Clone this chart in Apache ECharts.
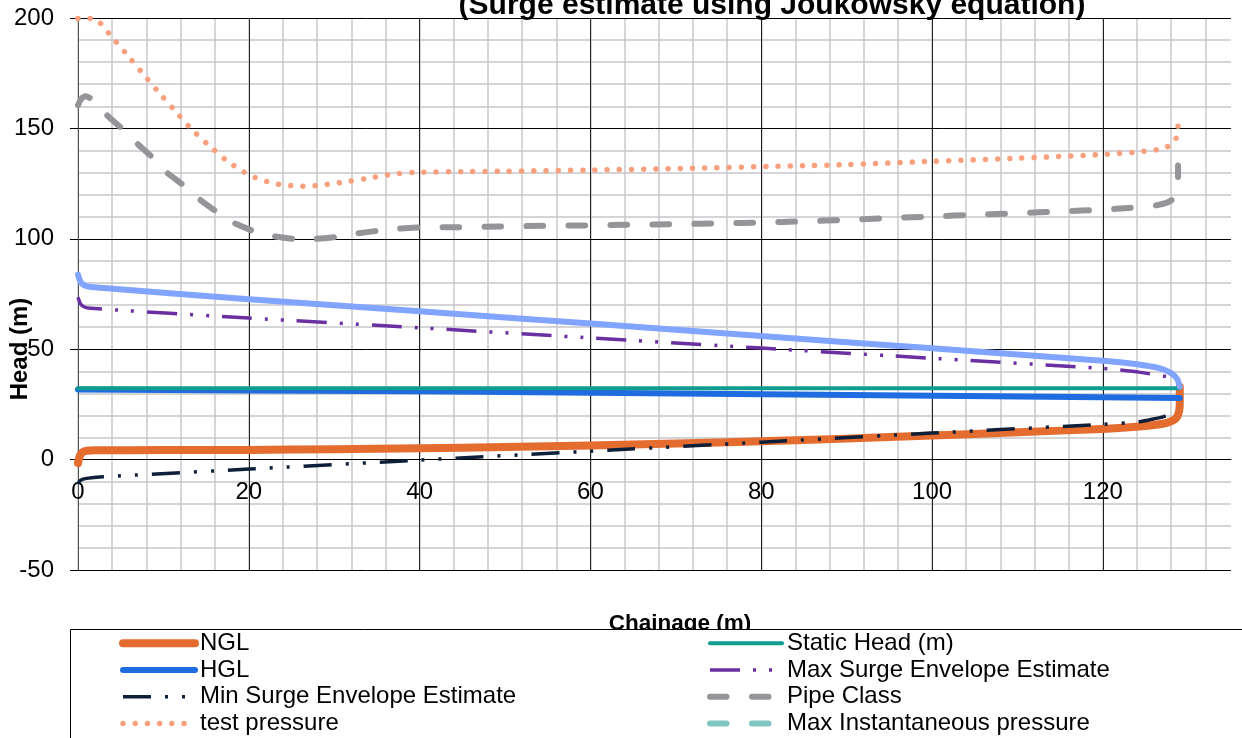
<!DOCTYPE html>
<html><head><meta charset="utf-8">
<script src="https://cdn.jsdelivr.net/npm/echarts@6/dist/echarts.min.js"></script>
<style>html,body{margin:0;padding:0;background:#fff}#c{width:1242px;height:738px}</style>
</head><body><div id="c"></div>
<script>
const titleText = '(Surge estimate using Joukowsky equation)';
const xAxisTitle = 'Chainage (m)';
const yAxisTitle = 'Head (m)';
const xTickLabels = [0, 20, 40, 60, 80, 100, 120];
const yTickLabels = [-50, 0, 50, 100, 150, 200];

const ngl = [[0,-1.6],[0.2,1.5],[0.5,3.3],[1,4],[2,4.2],[10,4.3],[20,4.4],[30,4.7],[40,5.1],[50,5.7],[60,6.4],[70,7.3],[80,8.3],[90,9.5],[100,10.9],[110,12.4],[120,13.9],[125,15.2],[127.5,16.6],[128.5,18.5],[128.9,21.5],[129,26],[129,33]];
const hgl = [[0,31.8],[40,30.9],[87,29.4],[129,27.9]];
const staticHead = [[0,32.3],[129,32.3]];
const minSurge = [[0,-10.8],[0.3,-9.3],[1,-8.5],[2.9,-7.8],[20,-4.3],[40,-0.2],[60,3.8],[80,7.9],[100,12],[120,16],[124.2,17.1],[127.3,19.7],[128.8,22.8]];
const testPressure = [[0,199.8],[1.9,199.8],[2.85,196.7],[3.74,192.4],[5.6,184],[7.45,175.5],[9.3,167],[11.2,158.7],[13.1,150.4],[15.2,142.7],[17.4,135.4],[18.6,132.3],[19.8,129.4],[21.1,127.2],[22.5,125.5],[23.9,124.4],[25.3,124],[26.7,123.8],[28.2,124.1],[29.6,124.9],[31,125.6],[33.8,127.3],[36.7,129.2],[39.5,130.1],[45,130.4],[50,130.6],[59.5,131.1],[70,131.8],[85,133.1],[90,133.6],[100,135.1],[110,136.5],[120,138.2],[124.2,139.4],[127,140.8],[128.3,143.6],[128.8,148.3],[128.8,154]];
const maxSurge = [[0,73.5],[0.3,70.5],[0.8,69],[1.5,68.5],[20,64.1],[40,59.7],[60,55.1],[80,50.5],[100,45.9],[120,41.3],[124.4,39.5],[127.9,37.3]];
const pipeClass = [[0,160.5],[0.4,163.5],[0.9,164.6],[1.5,163.5],[3.3,156.3],[5.1,150.1],[6.9,143.2],[8.6,137.3],[10.4,130],[12.3,124.4],[14.2,118],[16.2,112.3],[18.2,107.3],[20.5,103.6],[22.8,101.2],[25.4,100],[27.7,100],[30.1,100.8],[32.6,102.4],[35.1,103.6],[37.5,104.6],[40,105.1],[45,105.3],[50,105.6],[55,105.9],[60,106.1],[65,106.4],[70,106.6],[75,107],[80,107.4],[85,107.9],[90,108.6],[95,109.4],[100,110.1],[105,110.9],[110,111.6],[115,112.4],[120,113.2],[123,114],[126,115],[127.5,116.4],[128.3,118.2],[128.7,120.5],[128.8,124],[128.8,133.2]];
const maxInstantaneous = [];
const maxSurgeHead = [[0,83.8],[0.3,80.5],[0.8,78.8],[1.5,78.2],[20,72.6],[40,67.2],[60,61.6],[80,56],[100,50.4],[120,44.8],[124,43.2],[126.5,41.5],[128,39.2],[128.7,36.5],[129,33]];

const FONT = '"Liberation Sans", Arial, sans-serif';
const MAJOR = '#000';
const MINOR = '#c8c8cc';

function line(name, data, color, width, type, cap, extra) {
  return Object.assign({
    type: 'line', name: name, data: data, symbol: 'none', showSymbol: false,
    smooth: 0.2, xAxisIndex: 0, yAxisIndex: 0,
    lineStyle: { color: color, width: width, type: type, cap: cap, join: 'round' },
    itemStyle: { color: color }
  }, extra || {});
}

const chart = echarts.init(document.getElementById('c'), null, { renderer: 'canvas' });
const legendCommon = {
  orient: 'vertical', top: 630, height: 130, itemWidth: 72, itemHeight: 14, itemGap: 0, padding: 0,
  selectedMode: false, z: 10,
  textStyle: { fontSize: 24, color: '#000', fontFamily: FONT, lineHeight: 26.7 },
  lineStyle: { width: 'inherit' },
  itemStyle: { opacity: 0 }
};
chart.setOption({
  animation: false,
  backgroundColor: '#fff',
  grid: { left: 78, right: 11, top: 18, bottom: 168, containLabel: false, outerBoundsMode: 'none' },
  xAxis: [{
    type: 'value', min: 0, max: 135, interval: 20, z: 1, position: 'bottom', offset: -110.4,
    axisLine: { show: true, onZero: false, lineStyle: { color: '#000', width: 1 } },
    axisTick: { show: false },
    axisLabel: { color: '#000', fontSize: 24, fontFamily: FONT, margin: 21, showMaxLabel: false,
      formatter: function (v) { return xTickLabels.indexOf(v) >= 0 ? String(v) : ''; } },
    splitLine: { show: true, showMaxLine: false, lineStyle: { color: '#222', width: 1 } }
  }, {
    type: 'value', min: 0, max: 135, interval: 4, z: 0, position: 'top',
    axisLine: { show: false, onZero: false }, axisTick: { show: false }, axisLabel: { show: false },
    splitLine: { show: true, showMaxLine: false, lineStyle: { color: MINOR, width: 1.5 } }
  }],
  yAxis: {
    type: 'value', min: -50, max: 200, interval: 50, z: 1,
    axisLine: { show: true, onZero: false, lineStyle: { color: '#555', width: 1 } },
    axisTick: { show: true, length: 8, inside: false, lineStyle: { color: '#000' } },
    axisLabel: { color: '#000', fontSize: 24, fontFamily: FONT, margin: 24,
      formatter: function (v) { return yTickLabels.indexOf(v) >= 0 ? String(v) : ''; } },
    splitLine: { show: true, lineStyle: { color: MAJOR, width: 1 } },
    minorTick: { show: false, splitNumber: 5 },
    minorSplitLine: { show: true, lineStyle: { color: MINOR, width: 1.5 } }
  },
  legend: [
    Object.assign({}, legendCommon, { left: 119, data: ['NGL', 'HGL', 'Min Surge Envelope Estimate', 'test pressure'] }),
    Object.assign({}, legendCommon, { left: 707, data: ['Static Head (m)', 'Max Surge Envelope Estimate', 'Pipe Class', 'Max Instantaneous pressure'] })
  ],
  graphic: [
    { type: 'text', x: 772, y: 6, z: 20, style: { text: titleText, font: 'bold 30px ' + FONT, fill: '#000', align: 'center', verticalAlign: 'middle', textAlign: 'center', textVerticalAlign: 'middle' } },
    { type: 'text', x: 20, y: 349, rotation: Math.PI / 2, z: 20, style: { text: yAxisTitle, font: 'bold 24px ' + FONT, fill: '#000', align: 'center', verticalAlign: 'middle', textAlign: 'center', textVerticalAlign: 'middle' } },
    { type: 'text', x: 680, y: 624, z: 1, style: { text: xAxisTitle, font: 'bold 22.5px ' + FONT, fill: '#000', align: 'center', verticalAlign: 'middle', textAlign: 'center', textVerticalAlign: 'middle' } },
    { type: 'rect', z: 3, shape: { x: 70.5, y: 629.5, width: 1200, height: 130 }, style: { fill: '#fff', stroke: '#000', lineWidth: 1 } }
  ],
  series: [
    line('NGL', ngl, '#E46C2F', 8, 'solid', 'round'),
    line('HGL', hgl, '#1F6BE0', 6, 'solid', 'round'),
    line('Static Head (m)', staticHead, '#109C8F', 4, 'solid', 'round'),
    line('Min Surge Envelope Estimate', minSurge, '#0E1F3A', 3.5, [28, 14, 3, 14, 3, 14], 'butt'),
    line('test pressure', testPressure, '#F9A07E', 5.5, [0.01, 12.2], 'round', { clip: false }),
    line('Max Surge Envelope Estimate', maxSurge, '#6A2FA0', 3.5, [30, 13, 3, 13, 3, 13], 'butt'),
    line('Pipe Class', pipeClass, '#939598', 6, [16.5, 25.5], 'round'),
    line('Max Instantaneous pressure', maxInstantaneous, '#7FC5C1', 6, [16.5, 25.5], 'round'),
    line('Max Surge Head', maxSurgeHead, '#80A4FF', 6, 'solid', 'round')
  ]
});
</script>
</body></html>
